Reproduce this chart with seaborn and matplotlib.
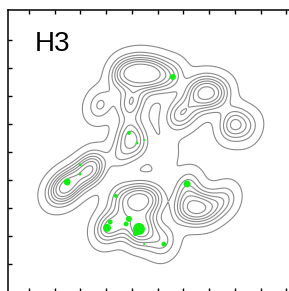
import numpy as np
import pandas as pd
import matplotlib
matplotlib.use("Agg")
import matplotlib.pyplot as plt
import seaborn as sns

# density support points (data units) and their weights
kde_x = [3.61, 4.16, 4.70, 5.17, 3.96, 2.76, 5.59, 6.49, 6.95, 7.42, 5.79, 6.25, 7.92, 8.47,
         3.88, 4.19, 3.53, 5.28,
         2.45, 1.94, 1.44, 1.01,
         3.38, 3.84, 4.31, 4.82, 6.02, 6.52, 7.03, 6.14, 7.61,
         3.03, 3.61, 4.31, 4.82, 5.28]
kde_y = [6.82, 6.86, 6.79, 6.71, 5.75, 5.68, 6.68, 6.18, 6.11, 6.04, 5.32, 5.43, 5.00, 4.86,
         4.68, 4.25, 3.89, 3.89,
         3.43, 3.11, 2.75, 2.57,
         2.43, 2.29, 2.29, 2.25, 2.04, 2.00, 1.96, 2.79, 2.29,
         1.29, 1.46, 1.25, 1.00, 0.75]
kde_w = [1.5, 2, 2, 1, 1.5, 1, 0.8, 1.2, 1.8, 1, 1.2, 0.6, 1.5, 0.8,
         1.2, 1, 0.8, 0.45,
         2, 1.2, 2, 0.8,
         0.6, 1.2, 1.8, 1.2, 1.2, 1.8, 1.2, 1, 0.9,
         1.5, 1, 2, 0.8, 0.8]

# green markers
pt_x = [1.98, 1.98, 1.48, 3.38, 6.14, 3.15, 3.03, 3.88, 3.77, 4.27, 4.12, 4.47, 5.24,
        3.88, 4.19, 4.47, 5.59]
pt_y = [3.54, 3.21, 2.93, 2.43, 2.86, 1.50, 1.29, 1.61, 1.43, 1.25, 1.07, 0.71, 0.71,
        4.68, 4.32, 4.43, 6.68]
pt_val = [2, 2, 12, 4, 12, 6, 16, 9, 6, 36, 4, 1, 6, 4, 2, 1, 9]

dens = pd.DataFrame({"x": kde_x, "y": kde_y, "w": kde_w})
pts = pd.DataFrame({"x": pt_x, "y": pt_y, "v": pt_val})

sns.set_style("white")
plt.rcParams["font.family"] = ["Liberation Sans", "DejaVu Sans"]

fig = plt.figure(figsize=(2.89, 2.91), dpi=100)
ax = fig.add_axes([7.5 / 289, -1 / 291, (297 - 7.5) / 289, (292 - 10) / 291])

sns.kdeplot(data=dens, x="x", y="y", weights="w", bw_adjust=0.35, levels=8, thresh=0.025,
            color="#8a8a8a", linewidths=0.8, ax=ax)
sns.scatterplot(data=pts, x="x", y="y", size="v", sizes=(2, 75), color="#11ee11",
                edgecolor="none", legend=False, ax=ax, zorder=3)

ax.set_xlim(-0.835, 10.41)
ax.set_ylim(-1.0, 9.07)
ax.set_xticks(range(0, 11))
ax.set_yticks(range(0, 9))
ax.tick_params(direction="in", length=3, width=1, top=True, bottom=True, left=True, right=True,
               labelbottom=False, labelleft=False, color="black")
ax.set_xlabel("")
ax.set_ylabel("")
for s in ax.spines.values():
    s.set_color("black")
    s.set_linewidth(1.1)

fig.text(35 / 289, 1 - 51 / 291, "H3", fontsize=20, va="baseline", ha="left", color="black")

fig.savefig("out.png", dpi=100)
